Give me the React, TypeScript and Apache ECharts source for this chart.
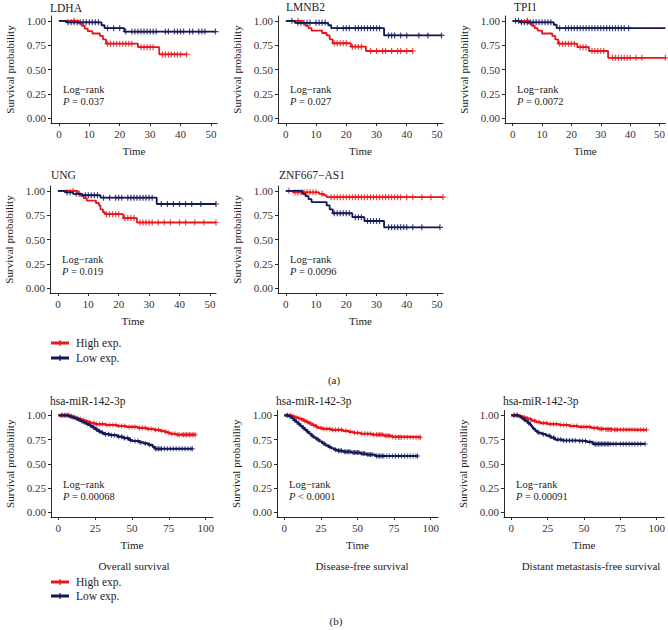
import React, { useEffect, useRef } from "react";
import * as echarts from "echarts";

const RED = "#E8151B";
const NAVY = "#12175A";
const FONT = "Liberation Serif";

// ---- Panel (a) data: [time, survival] step changes ----
const ldhaHigh = [[0, 1], [6.5, 0.975], [7.5, 0.95], [8.5, 0.92], [9.5, 0.895], [11, 0.87], [13.5, 0.845], [14.5, 0.81], [15.5, 0.765], [26, 0.73], [33, 0.655]];
const ldhaHighEnd = 42;
const ldhaHighCens = [5, 16, 17, 18, 19, 20, 21, 22, 23, 24, 27, 28, 29, 30, 31, 34, 35, 36, 37, 38, 39, 40, 42];
const ldhaLow = [[0, 1], [2.5, 0.985], [14, 0.955], [15, 0.925], [21.5, 0.89]];
const ldhaLowEnd = 51.5;
const ldhaLowCens = [3, 4, 5, 6, 7, 8, 9, 10, 11, 12, 13, 16, 18, 20, 22, 24, 25, 26, 27, 28, 29, 30, 31, 32, 35, 36, 38, 39, 40, 41, 43, 44, 46, 47, 48, 51.5];

const lmnb2High = [[0, 1], [5.5, 0.975], [6.5, 0.95], [7.5, 0.925], [8.5, 0.9], [12, 0.875], [13.5, 0.85], [14.5, 0.81], [15.5, 0.77], [21.5, 0.735], [26.5, 0.69]];
const lmnb2HighEnd = 42;
const lmnb2HighCens = [4, 16, 17, 18, 19, 20, 22, 23, 24, 25, 28, 30, 32, 33, 35, 37, 38, 40, 42];
const lmnb2Low = [[0, 1], [3, 0.98], [14, 0.955], [15, 0.925], [32.5, 0.85]];
const lmnb2LowEnd = 51.5;
const lmnb2LowCens = [2, 4, 5, 6, 7, 8, 10, 11, 12, 13, 17, 19, 20, 21, 23, 24, 25, 26, 27, 28, 29, 30, 31, 34, 35, 36, 38, 40, 44, 47, 51.5];

const tpi1High = [[0, 1], [5.5, 0.975], [6.5, 0.95], [7.5, 0.925], [8.5, 0.9], [10, 0.87], [13.5, 0.845], [14.5, 0.81], [15.5, 0.765], [22, 0.73], [26, 0.69], [32.5, 0.62]];
const tpi1HighEnd = 52;
const tpi1HighCens = [5, 16, 17, 18, 19, 20, 21, 23, 24, 25, 27, 28, 29, 30, 31, 34, 35, 36, 37, 38, 39, 40, 42, 44, 52];
const tpi1Low = [[0, 1], [2.5, 0.985], [14, 0.96], [15, 0.925]];
const tpi1LowEnd = 52;
const tpi1LowCens = [1, 2, 3, 4, 5, 6, 7, 8, 9, 10, 11, 12, 13, 16, 18, 19, 20, 21, 22, 23, 24, 25, 26, 27, 28, 29, 30, 31, 32, 33, 34, 35, 36, 37, 38, 39.5];

const ungHigh = [[0, 1], [6.5, 0.975], [7.5, 0.95], [8.5, 0.925], [9.5, 0.9], [12.5, 0.875], [13.5, 0.85], [14, 0.81], [14.8, 0.78], [15.5, 0.76], [21.5, 0.72], [26, 0.675]];
const ungHighEnd = 52;
const ungHighCens = [5, 16, 17, 18, 19, 20, 22, 23, 24, 25, 27, 28, 29, 30, 31, 33, 35, 37, 40, 42, 45, 48, 52];
const ungLow = [[0, 1], [2.5, 0.985], [5, 0.97], [8, 0.955], [14, 0.93], [32.5, 0.865]];
const ungLowEnd = 52;
const ungLowCens = [3, 4, 6, 7, 9, 10, 11, 12, 13, 15, 17, 19, 20, 21, 23, 24, 25, 26, 27, 28, 29, 30, 31, 34, 36, 38, 40, 42, 44, 47, 52];

const znfHigh = [[0, 1], [2.5, 0.985], [11, 0.97], [12.5, 0.955], [13.5, 0.935]];
const znfHighEnd = 52;
const znfHighCens = [1, 3, 4, 5, 6, 7, 8, 9, 10, 12, 15, 16, 17, 18, 19, 20, 21, 22, 23, 24, 25, 26, 27, 28, 29, 30, 31, 32, 33, 34, 35, 36, 37, 38, 40, 42, 45, 48, 52];
const znfLow = [[0, 1], [5.5, 0.97], [6.5, 0.945], [7.5, 0.915], [8.5, 0.885], [13.5, 0.85], [14.5, 0.81], [15.5, 0.77], [22, 0.73], [26, 0.69], [32.5, 0.625]];
const znfLowEnd = 51;
const znfLowCens = [16, 17, 18, 19, 20, 21, 23, 24, 25, 27, 28, 29, 30, 31, 34, 35, 36, 37, 38, 39, 40, 42, 45, 51];

// ---- Panel (b) data ----
const osHigh = [[0, 1], [8, 0.99], [10, 0.98], [12, 0.97], [14, 0.96], [16, 0.95], [18, 0.94], [20, 0.93], [22, 0.92], [25, 0.91], [32, 0.9], [40, 0.89], [46, 0.88], [54, 0.87], [60, 0.86], [65, 0.85], [69, 0.84], [72, 0.83], [74, 0.82], [76, 0.81], [80, 0.8]];
const osHighEnd = 93;
const osHighCens = [3, 5, 7, 9, 11, 13, 15, 17, 19, 21, 24, 26, 28, 30, 33, 35, 37, 39, 41, 43, 45, 48, 50, 52, 55, 57, 59, 61, 63, 66, 68, 70, 73, 75, 77, 79, 81, 82, 84, 85, 86, 87, 88, 89, 90, 91, 92, 93];
const osLow = [[0, 1], [7, 0.99], [9, 0.98], [11, 0.97], [13, 0.955], [15, 0.94], [17, 0.925], [19, 0.91], [21, 0.895], [23, 0.875], [25, 0.855], [27, 0.835], [29, 0.82], [31, 0.805], [35, 0.795], [40, 0.78], [44, 0.765], [48, 0.745], [50, 0.735], [55, 0.72], [58, 0.71], [61, 0.695], [64, 0.675], [65.5, 0.655]];
const osLowEnd = 91;
const osLowCens = [2, 4, 6, 8, 10, 12, 14, 16, 18, 20, 22, 24, 26, 28, 30, 32, 34, 36, 38, 41, 43, 45, 47, 49, 52, 54, 56, 59, 62, 66, 67, 68, 69, 70, 72, 74, 76, 78, 80, 82, 84, 86, 88, 90, 91];

const dfsHigh = [[0, 1], [5, 0.99], [7, 0.98], [9, 0.97], [11, 0.96], [13, 0.945], [15, 0.93], [17, 0.915], [19, 0.9], [21, 0.885], [23, 0.87], [26, 0.86], [32, 0.85], [40, 0.84], [44, 0.83], [47, 0.82], [52, 0.81], [60, 0.8], [68, 0.79], [73, 0.78], [75, 0.775]];
const dfsHighEnd = 93;
const dfsHighCens = [2, 4, 6, 8, 10, 12, 14, 16, 18, 20, 22, 25, 27, 29, 31, 33, 35, 37, 39, 42, 45, 48, 50, 53, 55, 57, 59, 61, 63, 64, 65, 66, 67, 69, 70, 71, 72, 74, 76, 78, 79, 80, 82, 84, 86, 88, 90, 92, 93];
const dfsLow = [[0, 1], [3, 0.99], [5, 0.97], [6.5, 0.95], [8, 0.93], [9.5, 0.91], [11, 0.89], [12.5, 0.87], [14, 0.85], [15.5, 0.83], [17, 0.81], [18.5, 0.79], [20, 0.77], [22, 0.75], [24, 0.73], [26, 0.71], [28, 0.69], [30, 0.675], [32, 0.66], [34, 0.645], [36, 0.635], [40, 0.625], [46, 0.615], [52, 0.605], [56, 0.595], [62, 0.58]];
const dfsLowEnd = 91;
const dfsLowCens = [2, 4, 7, 10, 13, 16, 19, 23, 27, 31, 35, 37, 38, 39, 41, 42, 43, 44, 45, 47, 48, 49, 50, 51, 53, 54, 55, 57, 58, 59, 60, 63, 64, 65, 66, 67, 68, 70, 72, 74, 76, 78, 80, 82, 84, 86, 88, 90, 91];

const dmfsHigh = [[0, 1], [6, 0.99], [8, 0.98], [10, 0.97], [12, 0.96], [14, 0.945], [17, 0.93], [20, 0.92], [25, 0.91], [33, 0.9], [40, 0.89], [46, 0.88], [55, 0.87], [60, 0.86], [64, 0.855], [70, 0.85]];
const dmfsHighEnd = 93;
const dmfsHighCens = [2, 4, 6, 9, 11, 13, 16, 19, 22, 24, 27, 29, 31, 34, 36, 38, 41, 43, 45, 48, 50, 52, 54, 57, 59, 61, 62, 63, 65, 66, 67, 68, 69, 71, 72, 73, 75, 77, 79, 81, 83, 85, 87, 89, 91, 93];
const dmfsLow = [[0, 1], [5, 0.99], [7, 0.97], [8.5, 0.955], [10, 0.94], [11.5, 0.92], [13, 0.9], [14, 0.88], [15, 0.86], [16.5, 0.84], [18, 0.82], [21, 0.805], [24, 0.79], [27, 0.77], [30, 0.75], [35, 0.74], [45, 0.735], [52, 0.725], [56, 0.705]];
const dmfsLowEnd = 92;
const dmfsLowCens = [2, 4, 9, 12, 19, 22, 26, 29, 32, 34, 36, 38, 40, 42, 44, 47, 49, 51, 54, 57, 58, 59, 60, 61, 62, 63, 64, 65, 66, 67, 68, 70, 72, 75, 77, 79, 81, 83, 85, 87, 89, 92];

// ---- Labels ----
const panelTitles = ["LDHA", "LMNB2", "TPI1", "UNG", "ZNF667\u2212AS1", "hsa-miR-142-3p", "hsa-miR-142-3p", "hsa-miR-142-3p"];
const pValues = ["P = 0.037", "P = 0.027", "P = 0.0072", "P = 0.019", "P = 0.0096", "P = 0.00068", "P < 0.0001", "P = 0.00091"];
const yTicks = [0, 0.25, 0.5, 0.75, 1];
const xTicksA = [0, 10, 20, 30, 40, 50];
const xTicksB = [0, 25, 50, 75, 100];
const subTitles = ["Overall survival", "Disease-free survival", "Distant metastasis-free survival"];
const legendLabels = ["High exp.", "Low exp."];

const panelData = [
  { high: ldhaHigh, highEnd: ldhaHighEnd, highCens: ldhaHighCens, low: ldhaLow, lowEnd: ldhaLowEnd, lowCens: ldhaLowCens },
  { high: lmnb2High, highEnd: lmnb2HighEnd, highCens: lmnb2HighCens, low: lmnb2Low, lowEnd: lmnb2LowEnd, lowCens: lmnb2LowCens },
  { high: tpi1High, highEnd: tpi1HighEnd, highCens: tpi1HighCens, low: tpi1Low, lowEnd: tpi1LowEnd, lowCens: tpi1LowCens },
  { high: ungHigh, highEnd: ungHighEnd, highCens: ungHighCens, low: ungLow, lowEnd: ungLowEnd, lowCens: ungLowCens },
  { high: znfHigh, highEnd: znfHighEnd, highCens: znfHighCens, low: znfLow, lowEnd: znfLowEnd, lowCens: znfLowCens },
  { high: osHigh, highEnd: osHighEnd, highCens: osHighCens, low: osLow, lowEnd: osLowEnd, lowCens: osLowCens },
  { high: dfsHigh, highEnd: dfsHighEnd, highCens: dfsHighCens, low: dfsLow, lowEnd: dfsLowEnd, lowCens: dfsLowCens },
  { high: dmfsHigh, highEnd: dmfsHighEnd, highCens: dmfsHighCens, low: dmfsLow, lowEnd: dmfsLowEnd, lowCens: dmfsLowCens },
];

// ---- Layout (pixels) ----
const layout = [
  { left: 51, top: 16, width: 166, height: 107, xmin: -2.6, xmax: 52, ticks: xTicksA, titleX: 50, titleY: 8 },
  { left: 278, top: 16, width: 165, height: 107, xmin: -2.6, xmax: 52, ticks: xTicksA, titleX: 286, titleY: 7 },
  { left: 505, top: 16, width: 164, height: 107, xmin: -2.6, xmax: 52, ticks: xTicksA, titleX: 514, titleY: 7 },
  { left: 50, top: 186, width: 166, height: 107, xmin: -2.6, xmax: 52, ticks: xTicksA, titleX: 51, titleY: 175 },
  { left: 278, top: 186, width: 165, height: 107, xmin: -2.6, xmax: 52, ticks: xTicksA, titleX: 279, titleY: 175 },
  { left: 51, top: 410.5, width: 162, height: 106.5, xmin: -5, xmax: 105, ticks: xTicksB, titleX: 50, titleY: 400.5 },
  { left: 277, top: 410.5, width: 161, height: 106.5, xmin: -5, xmax: 105, ticks: xTicksB, titleX: 276, titleY: 401 },
  { left: 504, top: 410.5, width: 160, height: 106.5, xmin: -5, xmax: 105, ticks: xTicksB, titleX: 503, titleY: 401 },
];

const PLUS = "path://M4,0H6V4H10V6H6V10H4V6H0V4H4Z";

function survAt(steps: number[][], t: number) {
  let s = 1;
  for (const [ti, si] of steps) {
    if (ti <= t) s = si;
    else break;
  }
  return s;
}

function buildOption() {
  const grid: any[] = [];
  const xAxis: any[] = [];
  const yAxis: any[] = [];
  const series: any[] = [];
  const graphic: any[] = [];
  const axisText = { color: "#333", fontFamily: FONT, fontSize: 11 };
  const nameText = { color: "#222", fontFamily: FONT, fontSize: 11, fontWeight: "normal" as const };

  layout.forEach((L, i) => {
    const d = panelData[i];
    const bottomRow = i >= 5;
    grid.push({ left: L.left, top: L.top, width: L.width, height: L.height });
    xAxis.push({
      type: "value", gridIndex: i, min: L.xmin, max: L.xmax,
      name: "Time", nameLocation: "middle", nameGap: 22,
      nameTextStyle: nameText,
      axisLine: { show: true, onZero: false, lineStyle: { color: "#111", width: 0.9 } },
      axisTick: { show: true, customValues: L.ticks, length: 3, lineStyle: { color: "#111", width: 0.9 } },
      axisLabel: { customValues: L.ticks, margin: 5, ...axisText },
      splitLine: { show: false },
    });
    yAxis.push({
      type: "value", gridIndex: i, min: -0.05, max: 1.05,
      name: "Survival probability", nameLocation: "middle", nameRotate: 90, nameGap: 36,
      nameTextStyle: nameText,
      axisLine: { show: true, onZero: false, lineStyle: { color: "#111", width: 0.9 } },
      axisTick: { show: true, customValues: yTicks, length: 3, lineStyle: { color: "#111", width: 0.9 } },
      axisLabel: { customValues: yTicks, margin: 5, formatter: (v: number) => v.toFixed(2), ...axisText },
      splitLine: { show: false },
    });
    const groups = [
      { steps: d.high, end: d.highEnd, cens: d.highCens, color: RED },
      { steps: d.low, end: d.lowEnd, cens: d.lowCens, color: NAVY },
    ];
    groups.forEach((g) => {
      const last = g.steps[g.steps.length - 1][1];
      series.push({
        type: "line", xAxisIndex: i, yAxisIndex: i, step: "end", symbol: "none", silent: true,
        data: [...g.steps, [g.end, last]],
        lineStyle: { color: g.color, width: bottomRow ? 2.2 : 1.8 },
      });
      series.push({
        type: "scatter", xAxisIndex: i, yAxisIndex: i, silent: true,
        data: g.cens.map((t) => [t, survAt(g.steps, t)]),
        symbol: PLUS, symbolSize: bottomRow ? 5 : 6,
        itemStyle: { color: g.color },
      });
    });
    // title
    graphic.push({
      type: "text", x: L.titleX, y: L.titleY,
      style: { text: panelTitles[i], fill: "#222", font: `11.5px "${FONT}"`, verticalAlign: "middle", align: "left" },
    });
    // log-rank annotation
    graphic.push({
      type: "text", x: L.left + 12, y: L.top + 73.5,
      style: { text: "Log\u2212rank", fill: "#222", font: `10.5px "${FONT}"`, verticalAlign: "middle", align: "left" },
    });
    const pv = pValues[i];
    graphic.push({
      type: "text", x: L.left + 12, y: L.top + 85.5,
      style: {
        text: "{i|P}" + pv.slice(1), fill: "#222", font: `10.5px "${FONT}"`, verticalAlign: "middle", align: "left",
        rich: { i: { fontStyle: "italic", fontFamily: FONT, fontSize: 10.5, fill: "#222" } },
      },
    });
  });

  // subtitles for (b)
  const subCenters = [134, 362, 591];
  subTitles.forEach((s, k) => {
    graphic.push({
      type: "text", x: subCenters[k], y: 565.5,
      style: { text: s, fill: "#222", font: `11px "${FONT}"`, align: "center", verticalAlign: "middle" },
    });
  });

  // legends
  const legendRows = [[343, 358], [582, 596]];
  legendRows.forEach((ys) => {
    [RED, NAVY].forEach((c, k) => {
      const y = ys[k];
      graphic.push({ type: "line", shape: { x1: 51, y1: y, x2: 69, y2: y }, style: { stroke: c, lineWidth: 3 } });
      graphic.push({ type: "line", shape: { x1: 60, y1: y - 3, x2: 60, y2: y + 3 }, style: { stroke: c, lineWidth: 1.2 } });
      graphic.push({
        type: "text", x: 76, y,
        style: { text: legendLabels[k], fill: "#222", font: `11.5px "${FONT}"`, align: "left", verticalAlign: "middle" },
      });
    });
  });

  graphic.push({ type: "text", x: 334, y: 380, style: { text: "(a)", fill: "#222", font: `11px "${FONT}"`, align: "center", verticalAlign: "middle" } });
  graphic.push({ type: "text", x: 336, y: 621, style: { text: "(b)", fill: "#222", font: `11px "${FONT}"`, align: "center", verticalAlign: "middle" } });

  return {
    animation: false,
    backgroundColor: "#ffffff",
    textStyle: { fontFamily: FONT },
    grid, xAxis, yAxis, series, graphic,
  };
}

export default function App() {
  const ref = useRef<HTMLDivElement>(null);
  useEffect(() => {
    document.body.style.margin = "0";
    if (!ref.current) return;
    const chart = echarts.init(ref.current, undefined, { renderer: "svg" });
    chart.setOption(buildOption() as any);
    return () => chart.dispose();
  }, []);
  return <div ref={ref} style={{ width: 668, height: 630 }} />;
}
